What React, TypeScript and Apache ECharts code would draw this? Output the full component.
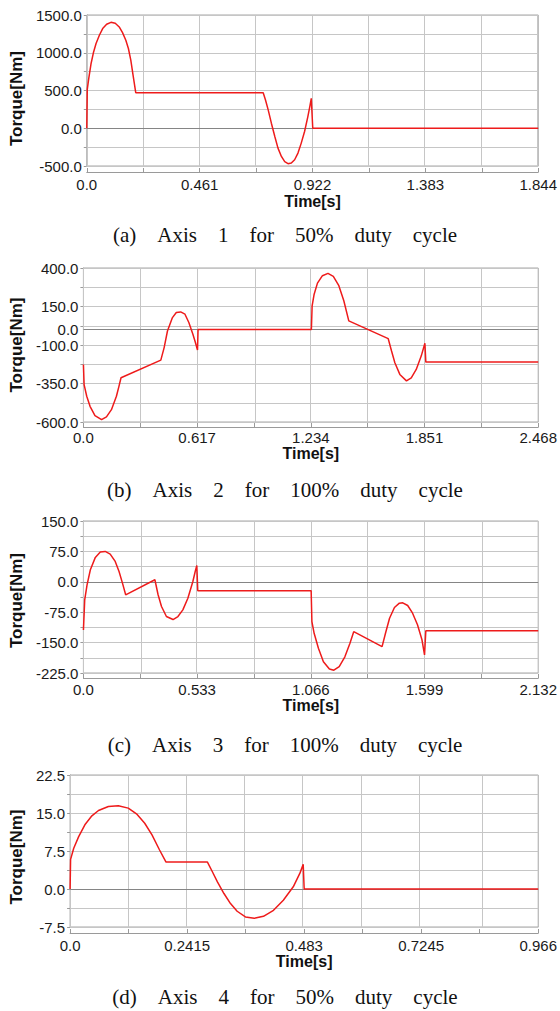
import React, { useEffect, useRef } from "react";
import * as echarts from "echarts";

// ---------- data (time [s], torque [Nm]) ----------
const axis1Torque: [number, number][] = [
  [0, 0], [0.002, 515], [0.0081, 660], [0.0176, 858], [0.027, 999], [0.0379, 1122],
  [0.0514, 1232], [0.0649, 1320], [0.0811, 1377], [0.0987, 1403], [0.1163, 1390],
  [0.1325, 1342], [0.146, 1267], [0.1595, 1166], [0.17, 1056], [0.1798, 902],
  [0.189, 704], [0.2, 471], [0.7206, 471], [0.73, 375], [0.741, 243], [0.754, 67],
  [0.768, -109], [0.781, -263], [0.795, -373], [0.8085, -443], [0.822, -469],
  [0.8355, -460], [0.849, -417], [0.8626, -329], [0.876, -197], [0.8896, -43],
  [0.903, 155], [0.911, 287], [0.917, 397], [0.923, 0], [1.844, 0],
];

const axis2Torque: [number, number][] = [
  [0, -226], [0.0036, -357], [0.0179, -433], [0.0358, -498], [0.0626, -559],
  [0.0984, -585], [0.125, -567], [0.152, -520], [0.179, -433], [0.193, -367],
  [0.204, -313], [0.42, -198], [0.438, -117], [0.456, -9], [0.483, 78],
  [0.504, 111], [0.5276, 115], [0.551, 100], [0.572, 46], [0.594, -30],
  [0.608, -85], [0.619, -133], [0.622, 0], [1.237, 0], [1.241, 154],
  [1.252, 230], [1.27, 302], [1.297, 350], [1.327, 365], [1.356, 346],
  [1.386, 285], [1.413, 187], [1.44, 57], [1.654, -59], [1.672, -139],
  [1.69, -215], [1.717, -291], [1.753, -333], [1.779, -313], [1.806, -259],
  [1.833, -172], [1.853, -89], [1.858, -211], [2.468, -211],
];

const axis3Torque: [number, number][] = [
  [0, -119], [0.003, -82], [0.006, -44.5], [0.017, -7.4], [0.0325, 29.7],
  [0.0558, 60.2], [0.079, 73.4], [0.102, 75], [0.1255, 68.4], [0.149, 50.3],
  [0.167, 25.5], [0.183, -3.3], [0.198, -32.1], [0.335, 5], [0.35, -32],
  [0.366, -61], [0.389, -85.7], [0.42, -93.1], [0.443, -85.7], [0.466, -69.2],
  [0.4896, -40.4], [0.513, 0.8], [0.524, 25.5], [0.5315, 40.4], [0.536, -22.3],
  [1.0675, -22.3], [1.071, -98], [1.0815, -127], [1.1016, -164], [1.125, -197],
  [1.153, -215], [1.174, -218], [1.199, -209], [1.2256, -185], [1.249, -152],
  [1.267, -123], [1.4, -160], [1.416, -127], [1.435, -90], [1.458, -63.5],
  [1.481, -52.7], [1.497, -51.9], [1.52, -58.5], [1.543, -77.5], [1.566, -106],
  [1.587, -143], [1.599, -180.5], [1.605, -121], [2.132, -121],
];

const axis4Torque: [number, number][] = [
  [0, 0], [0.001, 5.85], [0.0075, 8.03], [0.0177, 10.34], [0.0313, 12.79],
  [0.045, 14.44], [0.0586, 15.5], [0.079, 16.29], [0.0995, 16.42], [0.12, 15.96],
  [0.137, 14.83], [0.154, 12.98], [0.169, 10.67], [0.1846, 7.7], [0.198, 5.32],
  [0.2834, 5.32], [0.2936, 3.4], [0.304, 1.42], [0.3175, -0.89], [0.331, -2.88],
  [0.3447, -4.39], [0.3618, -5.52], [0.38, -5.78], [0.399, -5.39], [0.4197, -4.2],
  [0.44, -2.21], [0.4605, 0.43], [0.474, 3.07], [0.481, 4.86], [0.483, 0], [0.966, 0],
];

// ---------- axes: [min, max, grid step] and labelled ticks ----------
const xRange1 = [0, 1.844, 0.2305];
const xLabels1 = [0, 0.461, 0.922, 1.383, 1.844];
const yRange1 = [-500, 1500, 250];
const yLabels1 = [-500, 0, 500, 1000, 1500];

const xRange2 = [0, 2.468, 0.3085];
const xLabels2 = [0, 0.617, 1.234, 1.851, 2.468];
const yRange2 = [-600, 400, 125];
const yLabels2 = [-600, -350, -100, 0, 150, 400];

const xRange3 = [0, 2.132, 0.2665];
const xLabels3 = [0, 0.533, 1.066, 1.599, 2.132];
const yRange3 = [-225, 150, 37.5];
const yLabels3 = [-225, -150, -75, 0, 75, 150];

const xRange4 = [0, 0.966, 0.12075];
const xLabels4 = [0, 0.2415, 0.483, 0.7245, 0.966];
const yRange4 = [-7.5, 22.5, 3.75];
const yLabels4 = [-7.5, 0, 7.5, 15, 22.5];

const GAP = "\u00a0 \u00a0\u00a0";
const captionWords = [
  ["(a)", "Axis", "1", "for", "50%", "duty", "cycle"],
  ["(b)", "Axis", "2", "for", "100%", "duty", "cycle"],
  ["(c)", "Axis", "3", "for", "100%", "duty", "cycle"],
  ["(d)", "Axis", "4", "for", "50%", "duty", "cycle"],
];

const panels = [
  { data: axis1Torque, xRange: xRange1, xLabels: xLabels1, yRange: yRange1, yLabels: yLabels1 },
  { data: axis2Torque, xRange: xRange2, xLabels: xLabels2, yRange: yRange2, yLabels: yLabels2 },
  { data: axis3Torque, xRange: xRange3, xLabels: xLabels3, yRange: yRange3, yLabels: yLabels3 },
  { data: axis4Torque, xRange: xRange4, xLabels: xLabels4, yRange: yRange4, yLabels: yLabels4 },
];

// ---------- layout ----------
const layout = [
  { left: 84, top: 15, height: 151, xOffset: 6, xMargin: 5, xNameGap: 21, yNameGap: 59, yShift: 16, captionY: 235 },
  { left: 79, top: 268, height: 154, xOffset: 5, xMargin: 3, xNameGap: 12, yNameGap: 55, yShift: 0, captionY: 490 },
  { left: 80, top: 521, height: 152, xOffset: 5, xMargin: 4, xNameGap: 15, yNameGap: 54, yShift: 7, captionY: 745 },
  { left: 67, top: 775, height: 152, xOffset: 6, xMargin: 5, xNameGap: 18, yNameGap: 42, yShift: 12, captionY: 997 },
];

const SANS = "Liberation Sans";
const AXIS_GRAY = "#9a9a9a";
const GRID_GRAY = "#c6c6c6";
const ZERO_GRAY = "#858585";
const LABEL_COLOR = "#1a1a1a";

const near = (list: number[], v: number) => list.some((l) => Math.abs(l - v) < 1e-6);
const steps = (r: number[]) => {
  const n = Math.round((r[1] - r[0]) / r[2]);
  return Array.from({ length: n + 1 }, (_, k) => r[0] + k * r[2]);
};

export default function App() {
  const ref = useRef<HTMLDivElement>(null);

  useEffect(() => {
    if (!ref.current) return;
    const chart = echarts.init(ref.current, undefined, { renderer: "svg" });

    const grid = layout.map((l) => ({
      left: l.left,
      right: 21,
      top: l.top,
      height: l.height,
      show: true,
      borderColor: "#a6a6a6",
      borderWidth: 1,
      backgroundColor: "transparent",
    }));

    const xAxis = panels.map((p, i) => ({
      gridIndex: i,
      type: "value",
      min: p.xRange[0],
      max: p.xRange[1],
      interval: p.xRange[2],
      offset: layout[i].xOffset,
      axisLine: { show: true, onZero: false, lineStyle: { color: AXIS_GRAY, width: 1 } },
      axisTick: { show: true, inside: true, length: 4, lineStyle: { color: AXIS_GRAY } },
      axisLabel: {
        margin: layout[i].xMargin,
        fontSize: 15,
        fontFamily: SANS,
        color: LABEL_COLOR,
        formatter: (v: number) =>
          near(p.xLabels, v) ? (v === 0 ? "0.0" : String(v)) : "",
      },
      splitLine: { show: false },
      name: "Time[s]",
      nameLocation: "middle",
      nameGap: layout[i].xNameGap,
      nameTextStyle: { fontSize: 16, fontWeight: "bold", fontFamily: SANS, color: "#111" },
    }));

    const yAxis = panels.map((p, i) => ({
      gridIndex: i,
      type: "value",
      min: p.yRange[0],
      max: p.yRange[1],
      interval: p.yRange[2],
      axisLine: { show: true, onZero: false, lineStyle: { color: AXIS_GRAY, width: 1 } },
      axisTick: { show: true, inside: false, length: 3, lineStyle: { color: AXIS_GRAY } },
      axisLabel: {
        margin: 5,
        fontSize: 15,
        fontFamily: SANS,
        color: LABEL_COLOR,
        formatter: (v: number) => (near(p.yLabels, v) && v !== 0 ? v.toFixed(1) : ""),
      },
      splitLine: { show: false },
      name: "Torque[Nm]",
      nameLocation: "middle",
      nameRotate: 90,
      nameGap: layout[i].yNameGap,
      nameTextStyle: {
        fontSize: 17,
        fontWeight: "bold",
        fontFamily: SANS,
        color: "#111",
        padding: [0, layout[i].yShift, 0, 0],
      },
    }));

    const noLabel = { show: false };
    // red torque curves; grid lines and the zero line are mark lines on the axes' scales
    const series = panels.map((p, i) => ({
      type: "line",
      xAxisIndex: i,
      yAxisIndex: i,
      data: p.data,
      symbol: "none",
      showSymbol: false,
      lineStyle: { color: "#ee1b1b", width: 1.5 },
      z: 3,
      markLine: {
        silent: true,
        symbol: "none",
        z: 1,
        lineStyle: { color: GRID_GRAY, width: 1, type: "solid" },
        label: noLabel,
        data: [
          ...steps(p.xRange).map((v) => ({ xAxis: v, label: noLabel })),
          ...steps(p.yRange).map((v) => ({ yAxis: v, label: noLabel })),
          {
            yAxis: 0,
            lineStyle: { color: ZERO_GRAY, width: 1, type: "solid" },
            label: {
              show: true,
              position: "start",
              distance: 5,
              formatter: () => (0).toFixed(1),
              fontSize: 15,
              fontFamily: SANS,
              color: LABEL_COLOR,
            },
          },
        ],
      },
    }));

    const graphic = captionWords.map((words, i) => ({
      type: "text",
      x: 285,
      y: layout[i].captionY,
      style: {
        text: words.join(GAP),
        align: "center",
        verticalAlign: "middle",
        fontSize: 21,
        fontFamily: "Liberation Serif",
        fill: "#111",
      },
    }));

    chart.setOption({
      animation: false,
      backgroundColor: "#ffffff",
      grid,
      xAxis,
      yAxis,
      series,
      graphic,
    } as any);

    return () => chart.dispose();
  }, []);

  return (
    <div
      ref={ref}
      style={{ position: "absolute", left: 0, top: 0, width: 560, height: 1011 }}
    />
  );
}
